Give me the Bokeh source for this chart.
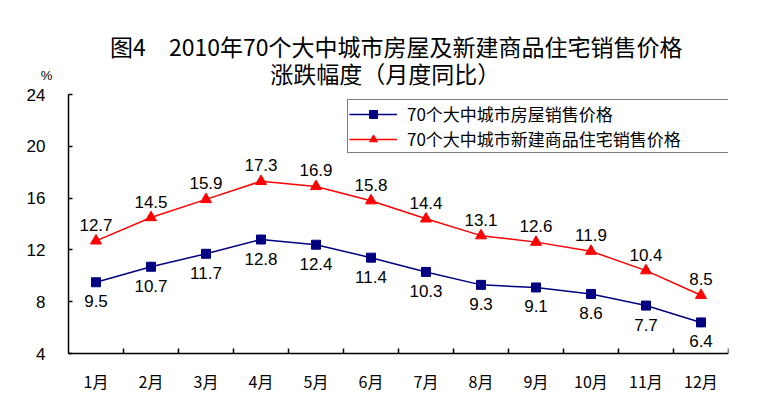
from bokeh.plotting import figure
from bokeh.models import (Range1d, FixedTicker, Label, LabelSet, Legend,
                          LegendItem, ColumnDataSource)
from bokeh.core.properties import value
from bokeh.embed import file_html
from bokeh.resources import INLINE

# ---- data ----
months = ["1月", "2月", "3月", "4月", "5月", "6月",
          "7月", "8月", "9月", "10月", "11月", "12月"]
house = [9.5, 10.7, 11.7, 12.8, 12.4, 11.4, 10.3, 9.3, 9.1, 8.6, 7.7, 6.4]
newhome = [12.7, 14.5, 15.9, 17.3, 16.9, 15.8, 14.4, 13.1, 12.6, 11.9, 10.4, 8.5]
y_ticks = [4, 8, 12, 16, 20, 24]
y_unit = "%"
name_house = "70个大中城市房屋销售价格"
name_new = "70个大中城市新建商品住宅销售价格"
title1 = "图4　2010年70个大中城市房屋及新建商品住宅销售价格"
title2 = "涨跌幅度（月度同比）"

# category centres / boundaries from the month list
n = len(months)
x = [i + 0.5 for i in range(n)]
bounds = [i + 1 for i in range(n)]

CJK = "Noto Sans CJK SC"
NUM = "Liberation Sans"
BLUE = "#000080"
RED = "#FF0000"

# frame spans the canvas from x=20 to 728 and y=0 to 400; the axes are
# drawn at data x=0 and y=4 so titles, unit and tick texts sit in the frame
PX_X = 55.0
PX_Y = 259.0 / (y_ticks[-1] - y_ticks[0])
x_lo = -(68 - 20) / PX_X
y_hi = y_ticks[-1] + 94 / PX_Y
y_lo = y_ticks[0] - (400 - 353) / PX_Y

p = figure(width=770, height=410, output_backend="svg", toolbar_location=None,
           title=None,
           x_range=Range1d(x_lo, n), y_range=Range1d(y_lo, y_hi),
           min_border_left=20, min_border_right=42, min_border_top=0,
           min_border_bottom=10)
p.xgrid.visible = False
p.ygrid.visible = False
p.outline_line_color = None
p.background_fill_color = "white"
p.border_fill_color = "white"

# x axis drawn at y=4: ticks at category boundaries, labels as text below
xa = p.xaxis[0]
xa.fixed_location = y_ticks[0]
xa.bounds = (0, n)
xa.ticker = FixedTicker(ticks=x, minor_ticks=bounds)
xa.major_label_overrides = {xi: "" for xi in x}
xa.major_label_text_font_size = "0px"
xa.major_label_standoff = 0
xa.major_tick_in = 0
xa.major_tick_out = 0
xa.minor_tick_in = 5
xa.minor_tick_out = 0
xa.minor_tick_line_color = "black"
xa.minor_tick_line_width = 1.5
xa.axis_line_color = "black"
xa.axis_line_width = 1.5

src_x = ColumnDataSource(dict(x=x, y=[y_ticks[0]] * n, t=months))
p.add_layout(LabelSet(x="x", y="y", text="t", source=src_x, y_offset=-27,
                      text_align="center", text_baseline="middle",
                      text_font=value(CJK), text_font_size=value("16px"),
                      text_color="black"))

# y axis drawn at x=0, labels drawn as text beside it
ya = p.yaxis[0]
ya.fixed_location = 0
ya.bounds = (y_ticks[0], y_ticks[-1])
ya.ticker = FixedTicker(ticks=y_ticks)
ya.major_label_overrides = {t: "" for t in y_ticks}
ya.major_label_text_font_size = "0px"
ya.major_label_standoff = 0
ya.major_tick_in = 4
ya.major_tick_out = 0
ya.major_tick_line_color = "black"
ya.major_tick_line_width = 1.5
ya.minor_tick_line_color = None
ya.axis_line_color = "black"
ya.axis_line_width = 1.5

src_y = ColumnDataSource(dict(x=[0] * len(y_ticks), y=y_ticks,
                              t=[str(t) for t in y_ticks]))
p.add_layout(LabelSet(x="x", y="y", text="t", source=src_y, x_offset=-23,
                      text_align="right", text_baseline="middle",
                      text_font=value(NUM), text_font_size=value("17px"),
                      text_color="black"))
p.add_layout(Label(x=0, y=y_ticks[-1], x_offset=-22, y_offset=19, text=y_unit,
                   text_align="center", text_baseline="middle", text_font=NUM,
                   text_font_size="13px", text_color="black"))

# series
l1 = p.line(x, house, line_color=BLUE, line_width=1.5)
s1 = p.scatter(x, house, marker="square", size=9, fill_color=BLUE, line_color=BLUE)
l2 = p.line(x, newhome, line_color=RED, line_width=1.5)
s2 = p.scatter(x, newhome, marker="triangle", size=11, fill_color=RED, line_color=RED)

src_h = ColumnDataSource(dict(x=x, y=house, t=["%.1f" % v for v in house]))
src_n = ColumnDataSource(dict(x=x, y=newhome, t=["%.1f" % v for v in newhome]))
p.add_layout(LabelSet(x="x", y="y", text="t", source=src_h, y_offset=-19,
                      text_align="center", text_baseline="middle",
                      text_font=value(NUM), text_font_size=value("17px"),
                      text_color="black"))
p.add_layout(LabelSet(x="x", y="y", text="t", source=src_n, y_offset=16,
                      text_align="center", text_baseline="middle",
                      text_font=value(NUM), text_font_size=value("17px"),
                      text_color="black"))

legend = Legend(items=[LegendItem(label=name_house, renderers=[l1, s1]),
                       LegendItem(label=name_new, renderers=[l2, s2])],
                location=(327, 400 - 153), orientation="vertical",
                border_line_color="black", border_line_width=1.5,
                background_fill_color="white", background_fill_alpha=1,
                padding=1, spacing=0, margin=0,
                glyph_width=48, glyph_height=20, label_standoff=10,
                label_width=320, label_height=20,
                label_text_font=CJK, label_text_font_size="17px",
                label_text_color="black")
p.add_layout(legend)

# titles
p.add_layout(Label(x=5.96, y=y_ticks[-1] + 49 / PX_Y, text=title1,
                   text_align="center", text_baseline="middle", text_font=CJK,
                   text_font_size="23px", text_font_style="normal",
                   text_color="black"))
p.add_layout(Label(x=5.76, y=y_ticks[-1] + 22 / PX_Y, text=title2,
                   text_align="center", text_baseline="middle", text_font=CJK,
                   text_font_size="23px", text_font_style="normal",
                   text_color="black"))

open("out.html", "w").write(file_html(p, INLINE))
